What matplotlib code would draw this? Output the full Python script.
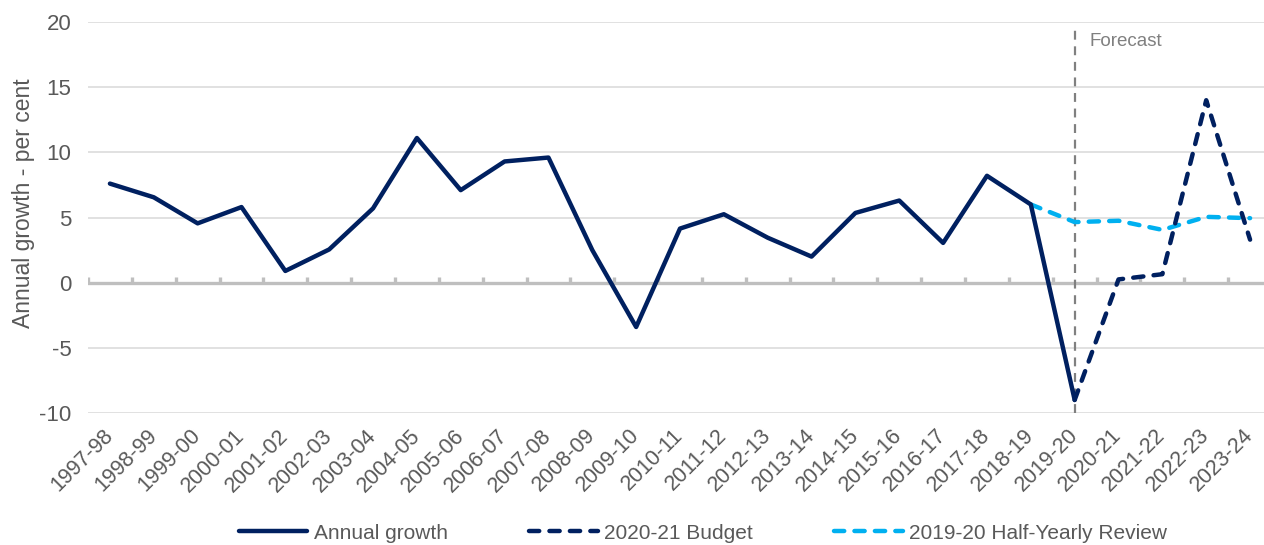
import matplotlib
matplotlib.use('Agg')
import matplotlib.pyplot as plt
import numpy as np

plt.rcParams['font.family'] = ['Liberation Sans', 'DejaVu Sans']
plt.rcParams['axes.unicode_minus'] = False

years = ['1997-98', '1998-99', '1999-00', '2000-01', '2001-02', '2002-03',
         '2003-04', '2004-05', '2005-06', '2006-07', '2007-08', '2008-09',
         '2009-10', '2010-11', '2011-12', '2012-13', '2013-14', '2014-15',
         '2015-16', '2016-17', '2017-18', '2018-19', '2019-20', '2020-21',
         '2021-22', '2022-23', '2023-24']
nan = np.nan
annual = [7.6, 6.55, 4.55, 5.8, 0.9, 2.55, 5.7, 11.1, 7.1, 9.3, 9.6, 2.5,
          -3.4, 4.15, 5.25, 3.45, 2.0, 5.35, 6.3, 3.05, 8.2, 6.0, -9.0,
          nan, nan, nan, nan]
budget = [nan] * 22 + [-9.0, 0.25, 0.65, 14.0, 3.3]
hyr = [nan] * 21 + [6.0, 4.65, 4.75, 4.05, 5.05, 4.95]
forecast_start = '2019-20'

navy = '#002060'
light = '#00B0F0'
txt = '#595959'

x = np.arange(len(years))
fig = plt.figure(figsize=(12.64, 5.45), dpi=100)
ax = fig.add_axes([88/1264, 1-413/545, 1184/1264, 391/545])

ax.set_ylim(-10, 20)
ax.set_xlim(-0.5, len(years)-0.5)
ax.set_yticks(np.arange(-10, 21, 5))
ax.grid(axis='y', color='#D9D9D9', lw=1.1)
ax.set_axisbelow(True)
for s in ax.spines.values():
    s.set_visible(False)

# zero line with small category ticks
ax.axhline(0, color='#BFBFBF', lw=2.4, zorder=1.5)
ax.vlines(np.append(x, x[-1] + 1) - 0.5, 0, 0.4, color='#BFBFBF', lw=2.4, zorder=1.5)

# forecast marker
fx = years.index(forecast_start)
ax.axvline(fx, ymin=0, ymax=0.985, color='#808080', lw=1.6, ls=(0, (4, 3)), zorder=2)
ax.annotate('Forecast', xy=(fx, 18.5), xytext=(11, 0), textcoords='offset points',
            va='center', ha='left', fontsize=13.5, color='#808080')

ax.plot(x, hyr, color=light, lw=3.2, dashes=(2.3, 2.3), dash_capstyle='round',
        label='2019-20 Half-Yearly Review', zorder=3)
ax.plot(x, annual, color=navy, lw=3.2, solid_capstyle='round',
        label='Annual growth', zorder=4)
ax.plot(x, budget, color=navy, lw=3.2, dashes=(2.3, 2.3), dash_capstyle='round',
        label='2020-21 Budget', zorder=4)

ax.set_xticks(x)
ax.set_xticklabels(years, rotation=45, ha='right', va='center',
                   rotation_mode='anchor', fontsize=15.5, color=txt)
ax.tick_params(axis='x', length=0, pad=14)
ax.tick_params(axis='y', length=0, pad=12, labelsize=16, labelcolor=txt)
ax.set_ylabel('Annual growth - per cent', fontsize=16.5, color=txt)
ax.yaxis.set_label_coords(-0.045, 0.537)

h, l = ax.get_legend_handles_labels()
order = [1, 2, 0]
fig.legend([h[i] for i in order], [l[i] for i in order], loc='center',
           bbox_to_anchor=(0.556, 0.022), ncol=3, frameon=False, fontsize=15,
           handlelength=3.3, handletextpad=0.3, columnspacing=3.9,
           labelcolor=txt)

fig.savefig('out.png', dpi=100)
